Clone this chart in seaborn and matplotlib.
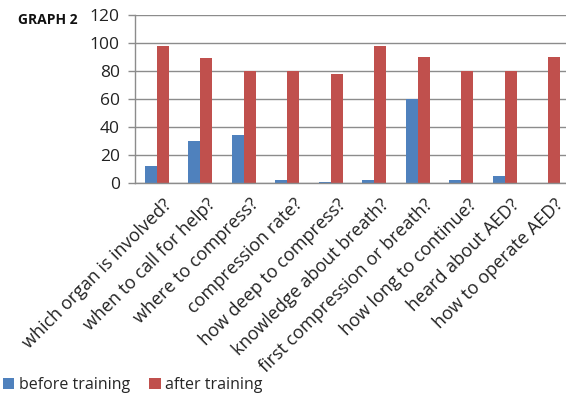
import matplotlib
matplotlib.use("Agg")
import matplotlib.pyplot as plt
import matplotlib.transforms as mtransforms
import seaborn as sns
import pandas as pd
import numpy as np
from matplotlib.patches import Patch

questions = ["which organ is involved?", "when to call for help?", "where to compress?",
             "compression rate?", "how deep to compress?", "knowledge about breath?",
             "first compression or breath?", "how long to continue?", "heard about AED?",
             "how to operate AED?"]
before = [12, 30, 34, 2, 1, 2, 60, 2, 5, 0]
after = [98, 89, 80, 80, 78, 98, 90, 80, 80, 90]
series = ["before training", "after training"]
yticks = [0, 20, 40, 60, 80, 100, 120]

blue = "#4F81BD"
red = "#C0504D"

df = pd.DataFrame({
    "question": questions * 2,
    "value": before + after,
    "group": [series[0]] * len(questions) + [series[1]] * len(questions),
})

sns.set_style("white")
plt.rcParams["font.family"] = ["Open Sans", "DejaVu Sans"]

fig = plt.figure(figsize=(5.66, 3.96), dpi=100)
W, H = 566, 396
ax = fig.add_axes([135 / W, (H - 183) / H, 435 / W, 168 / H])

sns.barplot(data=df, x="question", y="value", hue="group", order=questions,
            hue_order=series, palette=[blue, red], width=0.55, saturation=1,
            dodge=True, ax=ax, legend=False, linewidth=0)

n = len(questions)
ax.set_xlim(-0.5, n - 0.5)
ax.set_ylim(0, 120)
ax.set_yticks(yticks)
ax.set_yticklabels([str(v) for v in yticks], fontsize=12.5, color="#222222")
ax.yaxis.grid(True, color="#8c8c8c", linewidth=1.0)
ax.set_axisbelow(True)
ax.set_xlabel("")
ax.set_ylabel("")

ax.set_xticks(np.arange(n))
ax.set_xticklabels(questions, rotation=45, ha="right", rotation_mode="anchor",
                   fontsize=13, color="#222222")
ax.tick_params(axis="x", which="major", length=0, pad=9)
offset = mtransforms.ScaledTranslation(6 / 100, 0, fig.dpi_scale_trans)
for lbl in ax.get_xticklabels():
    lbl.set_transform(lbl.get_transform() + offset)
ax.set_xticks(np.arange(-0.5, n, 1.0), minor=True)
ax.tick_params(axis="x", which="minor", length=5, color="#8c8c8c", width=1, direction="out")
ax.tick_params(axis="y", length=5, color="#8c8c8c", width=1, direction="out", left=True, pad=6)

for s in ["top", "right"]:
    ax.spines[s].set_visible(False)
for s in ["left", "bottom"]:
    ax.spines[s].set_color("#8c8c8c")
    ax.spines[s].set_linewidth(1.0)

fig.text(18 / W, 1 - 20 / H, "GRAPH 2", fontsize=10, fontweight="bold", va="center",
         ha="left", color="#111111")

handles = [Patch(facecolor=blue, edgecolor="none"), Patch(facecolor=red, edgecolor="none")]
fig.legend(handles, series, loc="center left", bbox_to_anchor=(0.0, 1 - 385 / H),
           ncol=2, frameon=False, fontsize=11.5, handlelength=0.7, handleheight=0.7,
           handletextpad=0.3, columnspacing=1.2, borderaxespad=0, borderpad=0.2)

fig.savefig("out.png", dpi=100)
